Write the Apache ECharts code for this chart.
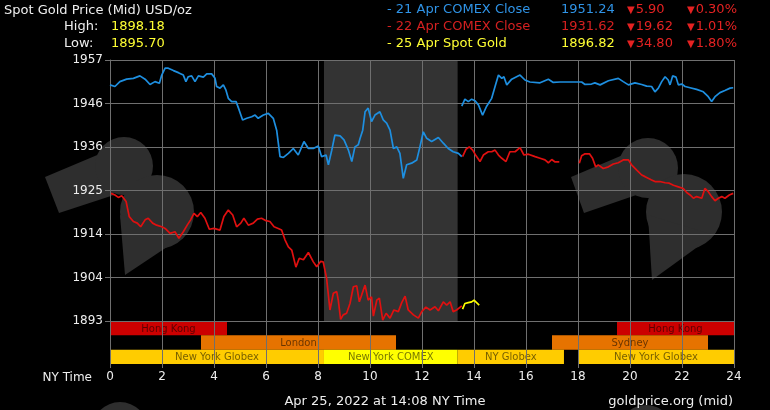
<!DOCTYPE html>
<html>
<head>
<meta charset="utf-8">
<title>Spot Gold Price</title>
<script src="https://cdn.jsdelivr.net/npm/echarts@6.0.0/dist/echarts.min.js"></script>
<style>
  html, body { margin: 0; padding: 0; background: #000; }
  #chart { width: 770px; height: 410px; }
</style>
</head>
<body>
<div id="chart"></div>
<script>
// 21 Apr (blue), before and after the COMEX close break
var blueA = [
  [0, 1950.9], [0.19, 1950.5], [0.38, 1951.7], [0.64, 1952.3], [0.9, 1952.5], [1.15, 1953.1],
  [1.35, 1952.3], [1.54, 1951.0], [1.73, 1951.7], [1.9, 1951.3], [1.99, 1953.3], [2.12, 1955.0],
  [2.24, 1955.0], [2.44, 1954.4], [2.63, 1953.9], [2.82, 1953.3], [2.92, 1951.7], [3.01, 1952.9],
  [3.14, 1953.1], [3.27, 1951.7], [3.4, 1953.1], [3.59, 1952.8], [3.72, 1953.6], [3.91, 1953.6],
  [4.04, 1952.5], [4.1, 1950.5], [4.23, 1950.1], [4.36, 1950.9], [4.46, 1949.6], [4.55, 1947.6],
  [4.68, 1946.8], [4.85, 1946.8], [4.97, 1944.7], [5.1, 1942.3], [5.26, 1942.7], [5.45, 1943.1],
  [5.58, 1943.5], [5.7, 1942.7], [5.9, 1943.5], [6.09, 1943.9], [6.28, 1942.7], [6.41, 1939.8],
  [6.54, 1933.3], [6.67, 1933.1], [6.86, 1934.1], [7.05, 1935.3], [7.24, 1933.7], [7.46, 1937.0],
  [7.63, 1935.3], [7.82, 1935.3], [8.01, 1935.9], [8.14, 1933.3], [8.31, 1933.7], [8.4, 1931.3],
  [8.53, 1934.9], [8.65, 1938.6], [8.85, 1938.4], [9.0, 1937.4], [9.17, 1934.9], [9.3, 1932.1],
  [9.42, 1935.7], [9.55, 1936.2], [9.62, 1937.8], [9.72, 1939.8], [9.81, 1944.3], [9.93, 1945.2],
  [10.06, 1941.9], [10.19, 1943.5], [10.38, 1944.3], [10.51, 1942.3], [10.64, 1941.5], [10.77, 1939.8],
  [10.9, 1935.3], [11.03, 1935.7], [11.15, 1934.1], [11.28, 1928.0], [11.41, 1931.3], [11.6, 1931.7],
  [11.8, 1932.5], [11.92, 1935.7], [12.05, 1939.4], [12.18, 1937.8], [12.37, 1937.0], [12.63, 1938.0],
  [12.82, 1936.6], [13.01, 1935.3], [13.2, 1934.5], [13.4, 1934.1], [13.53, 1933.3]
];
var blueB = [
  [13.53, 1945.7], [13.65, 1947.4], [13.78, 1946.8], [13.91, 1947.4], [14.04, 1947.0], [14.17, 1946.0],
  [14.33, 1943.5], [14.48, 1945.6], [14.68, 1947.6], [14.81, 1950.5], [14.94, 1953.3], [15.07, 1952.5],
  [15.15, 1952.9], [15.26, 1950.9], [15.45, 1952.3], [15.77, 1953.3], [15.96, 1952.1], [16.15, 1951.6],
  [16.54, 1951.4], [16.86, 1952.3], [17.05, 1951.5], [17.31, 1951.6], [18.14, 1951.6], [18.27, 1951.0],
  [18.52, 1951.1], [18.65, 1951.4], [18.85, 1950.9], [19.17, 1951.9], [19.55, 1952.5], [19.74, 1951.7],
  [19.94, 1950.9], [20.19, 1951.4], [20.45, 1951.0], [20.64, 1950.6], [20.83, 1950.5], [20.96, 1949.2],
  [21.09, 1950.1], [21.22, 1951.7], [21.35, 1952.9], [21.47, 1952.1], [21.54, 1950.9], [21.64, 1953.1],
  [21.77, 1952.8], [21.86, 1950.9], [21.99, 1951.1], [22.12, 1950.5], [22.31, 1950.2], [22.56, 1949.8],
  [22.82, 1949.2], [23.01, 1948.0], [23.14, 1946.8], [23.27, 1948.0], [23.46, 1949.0], [23.65, 1949.5],
  [23.85, 1950.1], [23.97, 1950.2]
];
// 22 Apr (red)
var redA = [
  [0.04, 1924.3], [0.19, 1923.9], [0.32, 1923.3], [0.45, 1923.7], [0.62, 1922.3], [0.74, 1918.6],
  [0.9, 1917.4], [1.05, 1917.0], [1.18, 1916.1], [1.35, 1917.8], [1.47, 1918.2], [1.64, 1917.0],
  [1.79, 1916.5], [1.99, 1916.1], [2.12, 1915.7], [2.31, 1914.5], [2.5, 1914.9], [2.65, 1913.3],
  [2.82, 1914.9], [2.97, 1916.5], [3.1, 1917.8], [3.23, 1919.4], [3.36, 1918.6], [3.49, 1919.6],
  [3.65, 1918.2], [3.82, 1915.5], [4.0, 1915.7], [4.23, 1915.3], [4.38, 1918.6], [4.55, 1920.2],
  [4.72, 1919.0], [4.87, 1916.1], [5.03, 1917.0], [5.15, 1918.2], [5.32, 1916.5], [5.51, 1917.0],
  [5.67, 1918.0], [5.83, 1918.2], [6.0, 1917.6], [6.15, 1917.4], [6.31, 1916.1], [6.47, 1915.7],
  [6.6, 1915.3], [6.73, 1912.9], [6.86, 1911.2], [6.99, 1910.4], [7.15, 1906.2], [7.28, 1908.4],
  [7.44, 1908.0], [7.63, 1909.8], [7.82, 1907.5], [7.95, 1906.3], [8.1, 1907.6], [8.2, 1907.5],
  [8.33, 1903.5], [8.46, 1895.7], [8.59, 1899.8], [8.72, 1900.2], [8.78, 1898.1], [8.87, 1893.4],
  [8.97, 1894.5], [9.1, 1894.9], [9.23, 1897.3], [9.36, 1901.4], [9.49, 1901.6], [9.59, 1897.7],
  [9.68, 1899.4], [9.81, 1901.8], [9.93, 1898.1], [10.06, 1898.9], [10.13, 1894.2], [10.26, 1898.1],
  [10.36, 1898.6], [10.49, 1893.2], [10.62, 1894.9], [10.77, 1893.7], [10.92, 1895.7], [11.09, 1895.3],
  [11.22, 1897.5], [11.35, 1899.1], [11.47, 1895.7], [11.67, 1894.5], [11.86, 1893.7], [11.99, 1895.3],
  [12.15, 1896.4], [12.31, 1895.7], [12.5, 1896.5], [12.63, 1895.5], [12.82, 1897.7], [12.95, 1896.9],
  [13.08, 1897.7], [13.2, 1895.3], [13.33, 1895.7], [13.53, 1896.7]
];
var redB = [
  [13.56, 1933.3], [13.69, 1935.1], [13.82, 1935.7], [13.95, 1934.9], [14.08, 1933.5], [14.23, 1932.1],
  [14.36, 1933.7], [14.55, 1934.5], [14.68, 1934.5], [14.81, 1934.9], [14.94, 1933.7], [15.07, 1932.9],
  [15.23, 1932.1], [15.38, 1934.5], [15.58, 1934.5], [15.77, 1935.5], [15.92, 1933.7], [16.09, 1933.9],
  [16.35, 1933.3], [16.54, 1932.9], [16.73, 1932.5], [16.86, 1931.8], [16.99, 1932.6], [17.12, 1932.0],
  [17.28, 1932.0]
];
var redC = [
  [18.05, 1931.7], [18.14, 1933.5], [18.27, 1934.0], [18.44, 1934.0], [18.56, 1932.9], [18.68, 1930.8],
  [18.78, 1931.3], [18.97, 1930.4], [19.17, 1930.8], [19.36, 1931.5], [19.55, 1931.8], [19.74, 1932.5],
  [19.94, 1932.5], [20.06, 1931.3], [20.26, 1930.0], [20.45, 1928.8], [20.58, 1928.4], [20.7, 1928.0],
  [20.83, 1927.6], [20.96, 1927.2], [21.15, 1927.2], [21.35, 1926.9], [21.51, 1926.8], [21.67, 1926.3],
  [21.86, 1925.9], [22.05, 1925.5], [22.18, 1924.5], [22.31, 1923.9], [22.44, 1923.1], [22.56, 1923.5],
  [22.76, 1923.1], [22.88, 1925.5], [23.01, 1924.7], [23.14, 1923.5], [23.27, 1922.5], [23.4, 1923.1],
  [23.53, 1923.5], [23.65, 1923.1], [23.82, 1923.9], [23.97, 1924.3]
];
// 25 Apr spot (yellow)
var yellowA = [
  [13.56, 1895.9], [13.65, 1897.3], [13.78, 1897.5], [13.91, 1897.7], [14.0, 1898.1], [14.1, 1897.5],
  [14.2, 1896.9]
];

var yTicks = [1893, 1903.667, 1914.333, 1925, 1935.667, 1946.333, 1957];
var comexHours = [[8.23, 13.37]];

// [name, row, start hour, end hour, kind]
var sessions = [
  ['Hong Kong', 0, 0, 4.5, 'hk'],
  ['Hong Kong', 0, 19.5, 24, 'hk'],
  ['London', 1, 3.5, 11.0, 'ldn'],
  ['Sydney', 1, 17.0, 23.0, 'ldn'],
  ['New York Globex', 2, 0, 8.23, 'globex'],
  ['New York COMEX', 2, 8.23, 13.37, 'comex'],
  ['NY Globex', 2, 13.37, 17.46, 'globex'],
  ['New York Globex', 2, 18, 24, 'globex']
];

var legendLabels = ['- 21 Apr COMEX Close', '- 22 Apr COMEX Close', '- 25 Apr Spot Gold'];
var legendPrices = ['1951.24', '1931.62', '1896.82'];
var legendChanges = ['5.90', '19.62', '34.80'];
var legendPercents = ['0.30%', '1.01%', '1.80%'];
var dayHigh = '1898.18';
var dayLow = '1895.70';

var FONT = '"DejaVu Sans", Verdana, sans-serif';
var GRID_COLOR = '#6f6f6f';
var legendColors = ['#2f93e6', '#d42020', '#ffff33'];
var sessionColors = { hk: '#cc0000', ldn: '#e67300', globex: '#ffcc00', comex: '#ffff00' };

function txt(text, x, y, color, size, align) {
  return {
    type: 'text', x: x, y: y, z: 10,
    style: {
      text: text, fill: color, fontFamily: FONT, fontSize: size || 13,
      align: align || 'left', verticalAlign: 'middle'
    }
  };
}

// red down arrow + value, as in the header
function downTxt(value, x, y) {
  return {
    type: 'text', x: x, y: y, z: 10,
    style: {
      text: '{t|▼}' + value, fill: '#e52222', fontFamily: FONT, fontSize: 13,
      verticalAlign: 'middle',
      rich: { t: { fontSize: 10, fill: '#e52222', fontFamily: FONT, padding: [0, 1, 0, 0] } }
    }
  };
}

var graphics = [
  txt('Spot Gold Price (Mid) USD/oz', 4, 11, '#eeeeee', 13),
  txt('High:', 64, 27, '#eeeeee', 13),
  txt(dayHigh, 111, 27, '#ffff33', 13),
  txt('Low:', 64, 44, '#eeeeee', 13),
  txt(dayLow, 111, 44, '#ffff33', 13),
  txt('NY Time', 92, 378, '#eeeeee', 12, 'right'),
  txt('Apr 25, 2022 at 14:08 NY Time', 385, 402, '#eeeeee', 13, 'center'),
  txt('goldprice.org (mid)', 733, 402, '#eeeeee', 13, 'right')
];
for (var i = 0; i < legendLabels.length; i++) {
  var ly = 10 + i * 17;
  graphics.push(txt(legendLabels[i], 387, ly, legendColors[i], 13));
  graphics.push(txt(legendPrices[i], 561, ly, legendColors[i], 13));
  graphics.push(downTxt(legendChanges[i], 627, ly));
  graphics.push(downTxt(legendPercents[i], 687, ly));
}

// faint watermark shapes behind the plot
var WM = '#2e2e2e';
graphics.push(
  { type: 'polygon', z: -10, shape: { points: [[45, 177], [102, 153], [114, 195], [59, 213]] }, style: { fill: WM } },
  { type: 'circle', z: -10, shape: { cx: 124, cy: 166, r: 29 }, style: { fill: WM } },
  { type: 'circle', z: -10, shape: { cx: 157, cy: 212, r: 37 }, style: { fill: WM } },
  { type: 'polygon', z: -10, shape: { points: [[120, 215], [185, 235], [125, 275]] }, style: { fill: WM } },
  { type: 'polygon', z: -10, shape: { points: [[571, 177], [630, 152], [645, 192], [584, 213]] }, style: { fill: WM } },
  { type: 'circle', z: -10, shape: { cx: 648, cy: 168, r: 30 }, style: { fill: WM } },
  { type: 'circle', z: -10, shape: { cx: 684, cy: 212, r: 38 }, style: { fill: WM } },
  { type: 'polygon', z: -10, shape: { points: [[648, 215], [714, 235], [652, 280]] }, style: { fill: WM } },
  { type: 'circle', z: -10, shape: { cx: 120, cy: 430, r: 28 }, style: { fill: WM } },
  { type: 'circle', z: -10, shape: { cx: 646, cy: 432, r: 27 }, style: { fill: WM } }
);

function lineSeries(data, color) {
  return {
    type: 'line', xAxisIndex: 0, yAxisIndex: 0, data: data,
    showSymbol: false, symbol: 'none', z: 3,
    lineStyle: { color: color, width: 1.7 }
  };
}

var option = {
  backgroundColor: '#000',
  animation: false,
  graphic: graphics,
  grid: [
    { left: 110, top: 60, width: 624, height: 261 },
    { left: 110, top: 321, width: 624, height: 43 }
  ],
  xAxis: [
    {
      type: 'value', gridIndex: 0, min: 0, max: 24, interval: 2,
      axisLine: { show: false }, axisTick: { show: false }, axisLabel: { show: false },
      splitLine: { show: true, lineStyle: { color: GRID_COLOR, width: 1 } }
    },
    {
      type: 'value', gridIndex: 1, min: 0, max: 24, interval: 2,
      axisLine: { show: false },
      axisTick: { show: true, length: 4, lineStyle: { color: GRID_COLOR } },
      axisLabel: { color: '#eeeeee', fontFamily: FONT, fontSize: 12, margin: 7 },
      splitLine: { show: true, lineStyle: { color: GRID_COLOR, width: 1 } }
    }
  ],
  yAxis: [
    {
      type: 'value', gridIndex: 0, min: 1893, max: 1957,
      axisLine: { show: true, lineStyle: { color: GRID_COLOR } },
      axisTick: { show: true, length: 5, customValues: yTicks, lineStyle: { color: GRID_COLOR } },
      axisLabel: {
        customValues: yTicks, color: '#eeeeee', fontFamily: FONT, fontSize: 12, margin: 7,
        formatter: function (v) { return Math.round(v); }
      },
      splitLine: { show: true, lineStyle: { color: GRID_COLOR, width: 1 } }
    },
    { type: 'value', gridIndex: 1, min: 0, max: 3, show: false }
  ],
  series: [
    {
      type: 'custom', xAxisIndex: 0, yAxisIndex: 0, z: -1,
      data: comexHours,
      encode: { x: [0, 1] },
      renderItem: function (params, api) {
        var p0 = api.coord([api.value(0), 1957]);
        var p1 = api.coord([api.value(1), 1893]);
        return { type: 'rect', shape: { x: p0[0], y: p0[1], width: p1[0] - p0[0], height: p1[1] - p0[1] }, style: { fill: '#333333' } };
      }
    },
    {
      type: 'custom', xAxisIndex: 1, yAxisIndex: 1, z: -1,
      data: sessions.map(function (s) { return [s[1], s[2], s[3]]; }),
      encode: { x: [1, 2], y: 0 },
      renderItem: function (params, api) {
        var s = sessions[params.dataIndex];
        var row = api.value(0);
        var p0 = api.coord([api.value(1), 3 - row]);
        var p1 = api.coord([api.value(2), 2 - row]);
        return {
          type: 'group',
          children: [
            { type: 'rect', shape: { x: p0[0], y: p0[1], width: p1[0] - p0[0], height: p1[1] - p0[1] }, style: { fill: sessionColors[s[4]] } },
            {
              type: 'text', x: (p0[0] + p1[0]) / 2, y: (p0[1] + p1[1]) / 2 + 1,
              style: { text: s[0], fill: 'rgba(0,0,0,0.55)', fontFamily: FONT, fontSize: 10, align: 'center', verticalAlign: 'middle' }
            }
          ]
        };
      }
    },
    lineSeries(blueA, '#1e8fe0'),
    lineSeries(blueB, '#1e8fe0'),
    lineSeries(redA, '#e01010'),
    lineSeries(redB, '#e01010'),
    lineSeries(redC, '#e01010'),
    lineSeries(yellowA, '#ffff00')
  ]
};

var chart = echarts.init(document.getElementById('chart'));
chart.setOption(option);
</script>
</body>
</html>
